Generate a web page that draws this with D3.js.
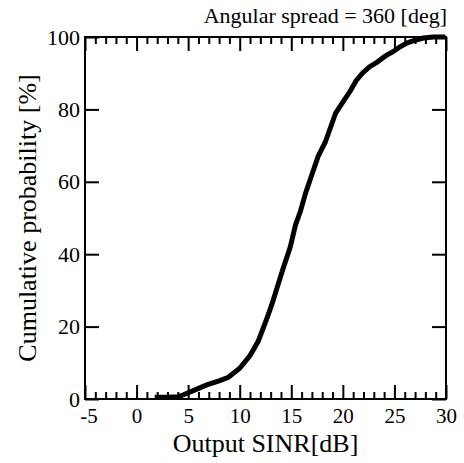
<!DOCTYPE html>
<html>
<head>
<meta charset="utf-8">
<script src="https://cdn.jsdelivr.net/npm/d3@7"></script>
<style>
  body { margin: 0; background: #fff; }
</style>
</head>
<body>
<div id="chart"></div>
<script>
// CDF of output SINR
const sinr = [2.0, 3.0, 4.0, 4.5, 5.5, 6.8, 8.0, 8.9, 10.0, 11.0, 11.8, 12.6, 13.1, 13.6, 14.2, 14.9, 15.4, 15.9, 16.4, 17.0,
              17.6, 18.3, 19.3, 20.0, 20.7, 21.3, 21.9, 22.6, 23.3, 24.1, 24.9, 25.5, 26.2, 27.0, 27.8, 28.8, 29.7];
const prob = [0.5, 0.5, 0.6, 1.1, 2.3, 3.9, 5.0, 6.0, 8.5, 12, 16, 22, 26, 30.5, 36, 42, 48, 52, 57, 62,
              67, 71, 79, 82, 85, 88, 90, 91.8, 93, 94.7, 96, 97.2, 98.3, 99.1, 99.7, 100, 100];
const xTicks = [-5, 0, 5, 10, 15, 20, 25, 30];
const yTicks = [0, 20, 40, 60, 80, 100];
const title = 'Angular spread = 360 [deg]';
const xLabel = 'Output SINR[dB]';
const yLabel = 'Cumulative probability [%]';

(function(){
  const W = 464, H = 463;
  const FONT = '"Liberation Serif"';
  const margin = {t:37, r:18, b:64, l:85};
  const w = W - margin.l - margin.r;
  const h = H - margin.t - margin.b;

  const svg = d3.select('#chart').append('svg').attr('width', W).attr('height', H);
  const g = svg.append('g').attr('transform', `translate(${margin.l},${margin.t})`);

  const x = d3.scaleLinear().domain([-5, 30]).range([0, w]);
  const y = d3.scaleLinear().domain([0, 100]).range([h, 0]);

  const minor = d3.range(-5, 31, 1).filter(v => v % 5 !== 0);

  // inward ticks on all four sides
  function styleAxis(sel, size){
    sel.select('.domain').remove();
    sel.attr('font-family', null).attr('font-size', null);
    sel.selectAll('line').attr('stroke', '#000').attr('stroke-width', 2);
    sel.selectAll('text').style('font-family', FONT).style('font-size', (size || 22) + 'px').attr('fill', '#000');
  }
  // bottom major / minor
  const xb = g.append('g').attr('transform', `translate(0,${h})`)
    .call(d3.axisBottom(x).tickValues(xTicks).tickSize(-14).tickPadding(9).tickFormat(d => String(d)))
    .call(styleAxis, 21);
  // negative labels sit centred on the digit, like the original
  xb.selectAll('text').filter(d => d < 0).attr('dx', '0.17em');
  g.append('g').attr('transform', `translate(0,${h})`)
    .call(d3.axisBottom(x).tickValues(minor).tickSize(-7).tickFormat(''))
    .call(styleAxis);
  // top
  g.append('g')
    .call(d3.axisTop(x).tickValues(xTicks).tickSize(-14).tickFormat(''))
    .call(styleAxis);
  g.append('g')
    .call(d3.axisTop(x).tickValues(minor).tickSize(-7).tickFormat(''))
    .call(styleAxis);
  // left
  g.append('g')
    .call(d3.axisLeft(y).tickValues(yTicks).tickSize(-14).tickPadding(5).tickFormat(d => String(d)))
    .call(styleAxis, 22);
  // right
  g.append('g').attr('transform', `translate(${w},0)`)
    .call(d3.axisRight(y).tickValues(yTicks).tickSize(-14).tickFormat(''))
    .call(styleAxis);

  // frame
  g.append('rect').attr('width', w).attr('height', h)
    .attr('fill', 'none').attr('stroke', '#000').attr('stroke-width', 2);

  // cdf curve
  const pts = sinr.map((v, i) => [v, prob[i]]);
  const line = d3.line().x(d => x(d[0])).y(d => y(d[1]));
  g.append('path').datum(pts)
    .attr('fill', 'none').attr('stroke', '#000')
    .attr('stroke-width', 5).attr('stroke-linejoin', 'miter').attr('stroke-linecap', 'square')
    .attr('d', line);

  // labels
  svg.append('text').attr('x', margin.l + w + 1).attr('y', 23)
    .attr('text-anchor', 'end').style('font-family', FONT).style('font-size', '22px').text(title);
  svg.append('text').attr('x', margin.l + w / 2).attr('y', H - 11)
    .attr('text-anchor', 'middle').style('font-family', FONT).style('font-size', '26px').text(xLabel);
  svg.append('text')
    .attr('transform', `translate(36,${margin.t + h / 2}) rotate(-90)`)
    .attr('text-anchor', 'middle').style('font-family', FONT).style('font-size', '26px').text(yLabel);
})();
</script>
</body>
</html>
